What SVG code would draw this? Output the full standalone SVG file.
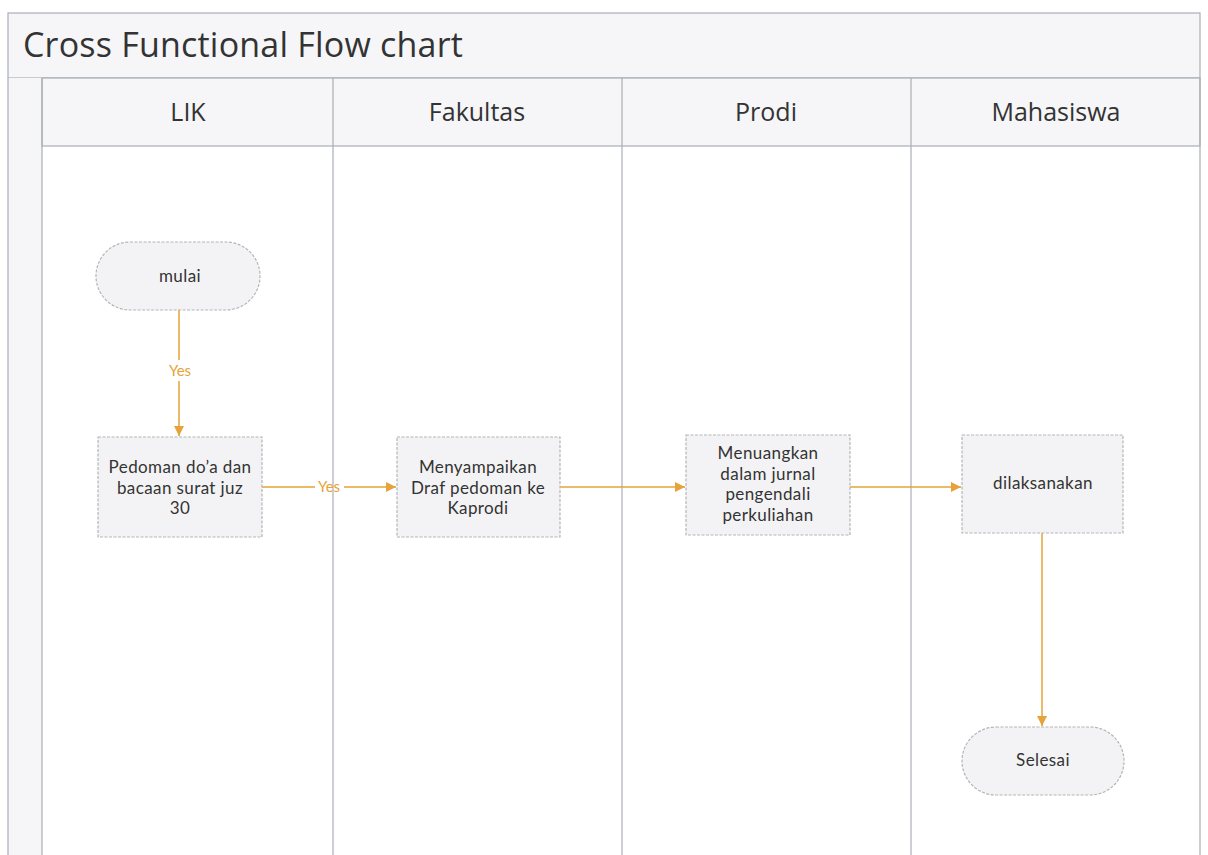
<svg xmlns="http://www.w3.org/2000/svg" width="1208" height="855" viewBox="0 0 1208 855">
<style>
.frame{fill:none;stroke:#a9b0b6;stroke-width:1.2}
.band{fill:#f6f6f8;stroke:#a9b0b6;stroke-width:1.2}
.node{fill:#f3f3f5;stroke:#b5b5b8;stroke-width:1.2;stroke-dasharray:3 1.5}
.t{font-family:"Open Sans","Noto Sans","Liberation Sans",sans-serif;fill:#333;text-anchor:middle}
.n{font-family:Lato,"Open Sans","Liberation Sans",sans-serif;font-size:17px;letter-spacing:0.4px}
.h{font-size:25px}
.c{fill:none;stroke:#e5a33a;stroke-width:1.5}
.lbl{font-family:Lato,"Open Sans","Liberation Sans",sans-serif;font-size:15px;fill:#e5a33a;text-anchor:middle}
</style>
<defs>
<marker id="arr" viewBox="0 0 10 10" refX="10" refY="5" markerWidth="10" markerHeight="10" markerUnits="userSpaceOnUse" orient="auto">
<path d="M0,0 L10,5 L0,10 z" fill="#e5a33a"/>
</marker>
</defs>
<rect width="1208" height="855" fill="#ffffff"/>
<g id="pool">
<rect class="band" x="8" y="13" width="1192" height="65"/>
<text class="t" x="23" y="57" style="font-size:34px;text-anchor:start;letter-spacing:0.2px">Cross Functional Flow chart</text>
<rect x="8" y="78" width="34" height="777" fill="#f6f6f8"/>
<rect class="band" x="42" y="78" width="1158" height="68"/>
<path class="frame" d="M8,78 V855 M42,78 V855 M333,78 V855 M622,78 V855 M911,78 V855 M1200,78 V855"/>
</g>
<g id="lane-lik"><text class="t h" x="188" y="121">LIK</text></g>
<g id="lane-fakultas"><text class="t h" x="477" y="121">Fakultas</text></g>
<g id="lane-prodi"><text class="t h" x="766" y="121">Prodi</text></g>
<g id="lane-mahasiswa"><text class="t h" x="1056" y="121">Mahasiswa</text></g>
<g id="connectors">
<path class="c" d="M179,310 V360 M179,381 V436" marker-end="url(#arr)"/>
<text class="lbl" x="180" y="376">Yes</text>
<path class="c" d="M262,487 H315 M344,487 H396" marker-end="url(#arr)"/>
<text class="lbl" x="329" y="492">Yes</text>
<path class="c" d="M560,487 H685" marker-end="url(#arr)"/>
<path class="c" d="M850,487 H961" marker-end="url(#arr)"/>
<path class="c" d="M1042,533 V726" marker-end="url(#arr)"/>
</g>
<g id="mulai">
<rect class="node" x="96" y="242" width="164" height="68" rx="34"/>
<text class="t n" x="180" y="282">mulai</text>
</g>
<g id="pedoman">
<rect class="node" x="98" y="437" width="164" height="100"/>
<text class="t n" x="180" y="473">Pedoman do’a dan</text>
<text class="t n" x="180" y="493.5">bacaan surat juz</text>
<text class="t n" x="180" y="514">30</text>
</g>
<g id="menyampaikan">
<rect class="node" x="397" y="437" width="163" height="100"/>
<text class="t n" x="478" y="473">Menyampaikan</text>
<text class="t n" x="478" y="493.5">Draf pedoman ke</text>
<text class="t n" x="478" y="514">Kaprodi</text>
</g>
<g id="menuangkan">
<rect class="node" x="686" y="435" width="164" height="100"/>
<text class="t n" x="768" y="459">Menuangkan</text>
<text class="t n" x="768" y="479.5">dalam jurnal</text>
<text class="t n" x="768" y="500">pengendali</text>
<text class="t n" x="768" y="520.5">perkuliahan</text>
</g>
<g id="dilaksanakan">
<rect class="node" x="962" y="435" width="161" height="98"/>
<text class="t n" x="1043" y="489">dilaksanakan</text>
</g>
<g id="selesai">
<rect class="node" x="962" y="727" width="162" height="68" rx="34"/>
<text class="t n" x="1043" y="766">Selesai</text>
</g>
</svg>
